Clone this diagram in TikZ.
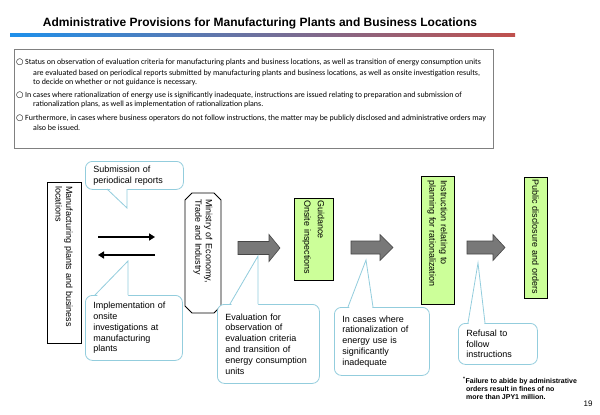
\documentclass[tikz,border=0pt]{standalone}
\usepackage{fontspec}
\setmainfont{Liberation Sans}
\newfontfamily\carlito{Carlito}
\newfontfamily\dejavu{DejaVu Sans}
\usetikzlibrary{arrows.meta}

\definecolor{calloutline}{RGB}{147,205,221}
\definecolor{boxgreen}{RGB}{204,255,153}
\definecolor{arrowgray}{RGB}{120,120,120}
\definecolor{arrowedge}{RGB}{70,70,70}
\definecolor{gradblue}{RGB}{30,144,235}
\definecolor{gradred}{RGB}{192,80,77}
\definecolor{framegray}{RGB}{128,128,128}

\begin{document}
\begin{tikzpicture}[x=1pt,y=-1pt,
  callout/.style={draw=calloutline, line width=0.8pt, fill=white, rounded corners=7pt,
    anchor=north west, inner xsep=8pt, inner ysep=0pt, align=left,
    font=\fontsize{9}{10.8}\selectfont},
  tailline/.style={draw=calloutline, line width=0.8pt, line join=miter},
  vbox/.style={draw=black, line width=0.8pt, rotate=-90, align=left, inner ysep=0pt,
    font=\fontsize{9}{10.5}\selectfont},
  greenbox/.style={vbox, fill=boxgreen},
  para/.style={anchor=base west, inner sep=0pt, font=\carlito\fontsize{7.95}{9}\selectfont},
  blockarrow/.style={fill=arrowgray, draw=arrowedge, line width=0.6pt},
  flow/.style={-{Triangle[length=6pt,width=7pt]}, line width=1.8pt}
]
\useasboundingbox (0,0) rectangle (600,415);
\fill[white] (0,0) rectangle (600,415);

% Title
\node[font=\bfseries\fontsize{12}{14}\selectfont, inner sep=0pt] (title) at (260,23)
  {Administrative Provisions for Manufacturing Plants and Business Locations};
\shade[left color=gradblue, right color=gradred] (10,33.5) rectangle (515,36.5);

% Notes frame
\node[draw=framegray, line width=0.8pt, minimum width=479pt, minimum height=99pt,
  anchor=north west, inner sep=0pt] (notes) at (14,49) {};

\node[para] (p1a) at (16,64.2) {\makebox[9pt][l]{\dejavu\fontsize{8.5}{9}\selectfont ○}Status on observation of evaluation criteria for manufacturing plants and business locations, as well as transition of energy consumption units};
\node[para] (p1b) at (33,75.2) {are evaluated based on periodical reports submitted by manufacturing plants and business locations, as well as onsite investigation results,};
\node[para] (p1c) at (33,84.2) {to decide on whether or not guidance is necessary.};
\node[para] (p2a) at (16,97.2) {\makebox[9pt][l]{\dejavu\fontsize{8.5}{9}\selectfont ○}In cases where rationalization of energy use is significantly inadequate, instructions are issued relating to preparation and submission of};
\node[para] (p2b) at (33,106.8) {rationalization plans, as well as implementation of rationalization plans.};
\node[para] (p3a) at (16,120.2) {\makebox[9pt][l]{\dejavu\fontsize{8.5}{9}\selectfont ○}Furthermore, in cases where business operators do not follow instructions, the matter may be publicly disclosed and administrative orders may};
\node[para] (p3b) at (33,130.2) {also be issued.};

% Left box
\node[vbox, minimum width=161pt, minimum height=34pt, text width=153pt, inner xsep=4pt]
  (plants) at (64,262.5) {Manufacturing plants and business\\locations};

% Ministry (octagon)
\draw[line width=0.8pt] (192,193) -- (214,193) -- (221,200) -- (221,306) -- (214,313)
  -- (192,313) -- (185,306) -- (185,200) -- cycle;
\node[vbox, draw=none, minimum width=120pt, minimum height=36pt, text width=108pt, inner xsep=6pt]
  (ministry) at (203,253) {Ministry of Economy,\\Trade and Industry};

% Green boxes
\node[greenbox, minimum width=82pt, minimum height=39pt, text width=78pt, inner xsep=2pt]
  (guidance) at (313.5,239) {Guidance\\[3pt]Onsite inspections};
\node[greenbox, minimum width=128pt, minimum height=33pt, text width=120pt, inner xsep=4pt]
  (instruction) at (437.5,240) {Instruction relating to\\[1pt]planning for rationalization};
\node[greenbox, minimum width=121pt, minimum height=23pt, text width=117pt, inner xsep=2pt]
  (public) at (535.5,237.5) {Public disclosure and orders};

% Black flow arrows
\coordinate (r1s) at (98,237);
\coordinate (r1e) at (155,237);
\coordinate (l1s) at (155,255);
\coordinate (l1e) at (98,255);
\draw[flow] (r1s) -- (r1e);
\draw[flow] (l1s) -- (l1e);

% Gray block arrows
\draw[blockarrow] (238,241.5) -- (269,241.5) -- (269,234.5) -- (280,248) -- (269,261.5)
  -- (269,254.5) -- (238,254.5) -- cycle;
\draw[blockarrow] (351,241) -- (380,241) -- (380,234.5) -- (393,247.5) -- (380,260.5)
  -- (380,254) -- (351,254) -- cycle;
\draw[blockarrow] (467,241) -- (493,241) -- (493,234.5) -- (505,247.5) -- (493,260.5)
  -- (493,254) -- (467,254) -- cycle;

% Callouts
\node[callout, minimum width=98pt, minimum height=28pt, text width=82pt]
  (sub) at (85,161) {Submission of\\periodical reports};
\coordinate (subA) at (107,189); \coordinate (subB) at (127,189); \coordinate (subT) at (127,208);
\fill[white] (108.5,187.4) -- (subT) -- (127,187.4) -- cycle;
\draw[tailline] (subA) -- (subT) -- (subB);

\node[callout, minimum width=97pt, minimum height=65pt, text width=81pt]
  (impl) at (85,295) {Implementation of\\onsite\\investigations at\\manufacturing\\plants};
\coordinate (impA) at (95,295); \coordinate (impB) at (128,295); \coordinate (impT) at (128,261);
\fill[white] (96.5,296.6) -- (impT) -- (128,296.6) -- cycle;
\draw[tailline] (impA) -- (impT) -- (impB);

\node[callout, minimum width=102pt, minimum height=79pt, text width=86pt]
  (eval) at (217,304) {Evaluation for\\observation of\\evaluation criteria\\and transition of\\energy consumption\\units};
\coordinate (evA) at (230,304); \coordinate (evB) at (258,304); \coordinate (evT) at (258,256);
\fill[white] (231,305.6) -- (evT) -- (258,305.6) -- cycle;
\draw[tailline] (evA) -- (evT) -- (evB);

\node[callout, minimum width=95pt, minimum height=68pt, text width=79pt]
  (cases) at (334,307) {In cases where\\rationalization of\\energy use is\\significantly\\inadequate};
\coordinate (caA) at (348,307); \coordinate (caB) at (373,307); \coordinate (caT) at (366,260);
\fill[white] (349,308.6) -- (caT) -- (372.5,308.6) -- cycle;
\draw[tailline] (caA) -- (caT) -- (caB);

\node[callout, minimum width=79pt, minimum height=41pt, text width=63pt]
  (refusal) at (458,323) {Refusal to\\follow\\instructions};
\coordinate (reA) at (468,323); \coordinate (reB) at (485,323); \coordinate (reT) at (478,263);
\fill[white] (468.5,324.6) -- (reT) -- (484.5,324.6) -- cycle;
\draw[tailline] (reA) -- (reT) -- (reB);

% Footnote and page number
\node[anchor=north west, font=\bfseries\fontsize{7}{8}\selectfont, align=left, inner sep=0pt]
  (foot) at (463,377) {\textsuperscript{*}Failure to abide by administrative\\\hspace*{3pt}orders result in fines of no\\\hspace*{3pt}more than JPY1 million.};
\node[font=\fontsize{8}{9}\selectfont, inner sep=0pt] (pg) at (588,404) {19};
\end{tikzpicture}
\end{document}
